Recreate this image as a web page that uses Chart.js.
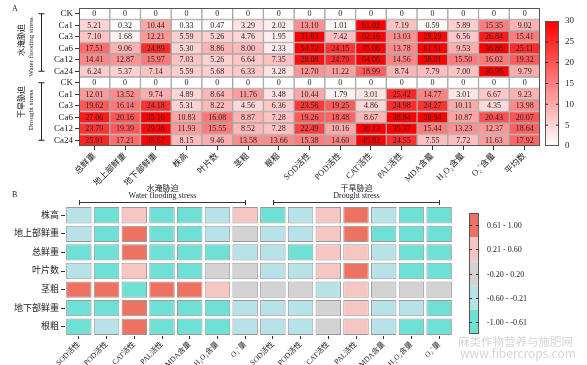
<!DOCTYPE html>
<html>
<head>
<meta charset="utf-8">
<script src="https://cdn.jsdelivr.net/npm/chart.js@4.4.0/dist/chart.umd.min.js"></script>
<style>
html, body { margin: 0; padding: 0; background: #fff; }
#wrap { position: relative; width: 587px; height: 365px; overflow: hidden; }
#chartA { position: absolute; left: 0; top: 0; }
#chartB { position: absolute; left: 0; top: 178px; }
.wm { position: absolute; color: #d6d6d6; font-family: 'Noto Sans CJK SC', sans-serif; white-space: nowrap; line-height: 1; }
</style>
</head>
<body>
<div id="wrap">
<canvas id="chartA" width="587" height="190"></canvas>
<canvas id="chartB" width="587" height="187"></canvas>
<div class="wm" style="left:458px;top:336px;font-size:11.5px;">麻类作物营养与施肥网</div>
<div class="wm" style="left:460px;top:347px;font-size:12px;">www.fibercrops.com</div>
</div>
<script>
// ---- data: panel A (promotion %, by treatment) ----
var traitsA = ['总鲜重', '地上部鲜重', '地下部鲜重', '株高', '叶片数', '茎粗', '根粗', 'SOD活性', 'POD活性', 'CAT活性', 'PAL活性', 'MDA含量', 'H₂O₂含量', 'O₂⁻含量', '平均数'];
var treatments = ['CK', 'Ca1', 'Ca3', 'Ca6', 'Ca12', 'Ca24'];
var floodValues = [
	[0, 0, 0, 0, 0, 0, 0, 0, 0, 0, 0, 0, 0, 0, 0],
	[5.21, 0.32, 10.44, 0.33, 0.47, 3.29, 2.02, 13.10, 1.01, 61.02, 7.19, 0.59, 5.89, 15.35, 9.02],
	[7.10, 1.68, 12.21, 5.59, 5.26, 4.76, 1.95, 31.83, 7.42, 62.16, 13.03, 29.29, 6.56, 26.84, 15.41],
	[17.51, 9.06, 24.89, 5.30, 8.86, 8.00, 2.33, 54.72, 24.15, 75.06, 13.78, 61.51, 9.53, 36.86, 25.11],
	[14.41, 12.87, 15.97, 7.03, 5.26, 6.64, 7.35, 28.08, 24.79, 64.06, 14.56, 38.01, 15.50, 16.02, 19.32],
	[6.24, 5.37, 7.14, 5.59, 5.68, 6.33, 3.28, 12.70, 11.22, 18.99, 8.74, 7.79, 7.00, 30.98, 9.79]
];
var droughtValues = [
	[0, 0, 0, 0, 0, 0, 0, 0, 0, 0, 0, 0, 0, 0, 0],
	[12.01, 13.52, 9.74, 4.89, 8.64, 11.76, 3.48, 10.44, 1.79, 3.01, 25.42, 14.77, 3.01, 6.67, 9.23],
	[19.62, 16.14, 24.18, 5.31, 8.22, 4.56, 6.36, 23.56, 19.25, 4.86, 24.98, 24.27, 10.11, 4.35, 13.98],
	[27.06, 20.16, 35.16, 10.83, 16.08, 8.87, 7.28, 19.26, 18.48, 8.67, 38.84, 38.94, 10.87, 20.43, 20.07],
	[23.79, 19.39, 29.36, 11.93, 15.55, 8.52, 7.28, 22.49, 10.16, 36.13, 35.37, 15.44, 13.23, 12.37, 18.64],
	[25.91, 17.21, 35.67, 8.15, 9.46, 13.58, 13.66, 15.38, 14.60, 45.82, 24.55, 7.55, 7.72, 11.63, 17.92]
];
var colorbarTicksA = [0, 5, 10, 15, 20, 25, 30];

// ---- data: panel B (correlation classes) ----
var growthTraits = ['株高', '地上部鲜重', '总鲜重', '叶片数', '茎粗', '地下部鲜重', '根粗'];
var physioIndices = ['SOD活性', 'POD活性', 'CAT活性', 'PAL活性', 'MDA含量', 'H₂O₂含量', 'O₂⁻量'];
var corrFlood = [
	[-0.4, -0.8, 0.4, -0.8, -0.8, -0.4, 0.4],
	[-0.4, -0.8, 0.8, -0.8, -0.8, -0.4, 0],
	[-0.8, -0.8, 0.8, -0.8, -0.8, -0.8, -0.4],
	[-0.4, -0.8, 0.4, -0.8, -0.8, 0, 0],
	[0.8, 0.8, -0.8, 0.8, 0.8, 0.4, 0],
	[-0.8, -0.8, 0.8, -0.8, -0.8, -0.8, -0.4],
	[-0.8, -0.4, 0.8, -0.8, -0.8, -0.8, -0.4]
];
var corrDrought = [
	[-0.8, -0.4, 0.4, 0.8, -0.4, -0.8, -0.8],
	[-0.4, -0.4, 0.4, 0.8, -0.8, -0.8, -0.8],
	[-0.4, -0.8, 0.4, 0.4, -0.4, -0.8, -0.8],
	[-0.4, -0.4, 0.4, 0.8, -0.4, -0.8, -0.8],
	[0, 0, -0.4, 0.4, 0, 0, 0],
	[-0.4, -0.4, 0, 0.4, -0.4, -0.4, -0.8],
	[-0.4, -0.4, 0, 0.4, -0.4, -0.8, -0.8]
];
var corrClasses = ['0.61 - 1.00', '0.21 - 0.60', '-0.20 - 0.20', '-0.60 - -0.21', '-1.00 - -0.61'];
var corrColors = ['#ED7262', '#F6C6C3', '#D3D3D3', '#B6E2E8', '#6EE0D4'];

Chart.defaults.font.family = "'Liberation Serif', 'Noto Sans CJK SC', serif";
Chart.defaults.color = '#222';

var SERIF = "'Liberation Serif', 'Noto Sans CJK SC', serif";
var rowsA = treatments.concat(treatments);
var valuesA = floodValues.concat(droughtValues);

function redScale(v) {
	var t = Math.min(v / 30, 1);
	var g = Math.round(255 * (1 - t));
	return 'rgb(255,' + g + ',' + g + ')';
}

function corrColor(v) {
	if (v > 0.6) return corrColors[0];
	if (v > 0.2) return corrColors[1];
	if (v >= -0.2) return corrColors[2];
	if (v >= -0.6) return corrColors[3];
	return corrColors[4];
}

function vText(ctx, txt, x, y, size) {
	ctx.save();
	ctx.translate(x, y);
	ctx.rotate(-Math.PI / 2);
	ctx.font = size + 'px ' + SERIF;
	ctx.textAlign = 'center';
	ctx.textBaseline = 'middle';
	ctx.fillText(txt, 0, 0);
	ctx.restore();
}

// ---- panel A ----
var decorA = {
	id: 'decorA',
	afterDraw: function(chart) {
		var ctx = chart.ctx, area = chart.chartArea, y = chart.scales.y;
		ctx.save();
		// cell values
		ctx.font = '8px ' + SERIF;
		ctx.textAlign = 'center';
		ctx.textBaseline = 'middle';
		ctx.fillStyle = '#222';
		chart.data.datasets.forEach(function(ds, i) {
			chart.getDatasetMeta(i).data.forEach(function(bar, j) {
				var v = valuesA[i][j];
				ctx.fillText(v === 0 ? '0' : v.toFixed(2), bar.x, (bar.y + bar.base) / 2 + 0.5);
			});
		});
		// frame
		ctx.strokeStyle = '#555';
		ctx.lineWidth = 1;
		ctx.strokeRect(area.left + 0.5, area.top + 0.5, area.right - area.left - 1, area.bottom - area.top - 1);
		// group brackets
		ctx.strokeStyle = '#222';
		[[0, 5], [6, 11]].forEach(function(g) {
			var y0 = y.getPixelForValue(g[0] + 0.5), y1 = y.getPixelForValue(g[1] + 0.5);
			ctx.beginPath();
			ctx.moveTo(41.5, y0); ctx.lineTo(41.5, y1);
			ctx.moveTo(38.5, y0); ctx.lineTo(44.5, y0);
			ctx.moveTo(38.5, y1); ctx.lineTo(44.5, y1);
			ctx.stroke();
		});
		ctx.fillStyle = '#222';
		vText(ctx, '水淹胁迫', 22, 40, 8);
		vText(ctx, 'Water flooding stress', 31, 47, 7);
		vText(ctx, '干旱胁迫', 22, 102, 8);
		vText(ctx, 'Drought stress', 31, 110, 7);
		// panel letter
		ctx.font = '8px ' + SERIF;
		ctx.textAlign = 'left';
		ctx.fillText('A', 12, 9);
		// colour bar
		var bx = 545, bw = 14, top = 21, bot = 146;
		var grad = ctx.createLinearGradient(0, bot, 0, top);
		grad.addColorStop(0, '#ffffff');
		grad.addColorStop(1, '#ff0000');
		ctx.fillStyle = grad;
		ctx.fillRect(bx, top, bw, bot - top);
		ctx.strokeStyle = '#555';
		ctx.strokeRect(bx + 0.5, top + 0.5, bw - 1, bot - top - 1);
		ctx.font = '9px ' + SERIF;
		ctx.fillStyle = '#222';
		ctx.textAlign = 'left';
		ctx.strokeStyle = '#333';
		colorbarTicksA.forEach(function(t) {
			var ty = bot - t / 30 * (bot - top);
			if (t > 0 && t < 30) {
				ctx.beginPath();
				ctx.moveTo(bx, ty); ctx.lineTo(bx + 3, ty);
				ctx.moveTo(bx + bw - 3, ty); ctx.lineTo(bx + bw, ty);
				ctx.stroke();
			}
			ctx.fillText(String(t), 565, ty);
		});
		ctx.restore();
	}
};

new Chart(document.getElementById('chartA'), {
	type: 'bar',
	data: {
		labels: traitsA,
		datasets: rowsA.map(function(r, i) {
			return {
				label: r,
				data: traitsA.map(function() { return [i, i + 1]; }),
				backgroundColor: valuesA[i].map(redScale),
				borderColor: '#a8a8a8',
				borderWidth: 1,
				borderSkipped: false,
				grouped: false,
				barPercentage: 1,
				categoryPercentage: 1
			};
		})
	},
	options: {
		responsive: false,
		animation: false,
		events: [],
		layout: { padding: { top: 8, right: 47, left: 0, bottom: 0 } },
		plugins: { legend: { display: false }, tooltip: { enabled: false } },
		scales: {
			x: {
				grid: { offset: false, drawOnChartArea: false, tickLength: 4, color: '#333' },
				border: { display: false },
				ticks: { autoSkip: false, maxRotation: 45, minRotation: 45, padding: 1, font: { size: 8.5 } },
				afterFit: function(s) { s.height = 44; }
			},
			y: {
				type: 'linear', min: 0, max: 12, reverse: true,
				afterBuildTicks: function(s) { s.ticks = rowsA.map(function(_, i) { return { value: i + 0.5 }; }); },
				grid: { drawOnChartArea: false, tickLength: 4, color: '#333' },
				border: { display: false },
				ticks: { autoSkip: false, padding: 2, font: { size: 9 }, callback: function(v, i) { return rowsA[i]; } },
				afterFit: function(s) { s.width = 79; }
			}
		}
	},
	plugins: [decorA]
});

// ---- panel B ----
var columnsB = physioIndices.concat(physioIndices);
var corrB = corrFlood.map(function(row, i) { return row.concat(corrDrought[i]); });

var decorB = {
	id: 'decorB',
	afterDraw: function(chart) {
		var ctx = chart.ctx, x = chart.scales.x;
		ctx.save();
		ctx.fillStyle = '#222';
		ctx.strokeStyle = '#333';
		ctx.lineWidth = 1;
		ctx.font = '8px ' + SERIF;
		ctx.textAlign = 'left';
		ctx.textBaseline = 'middle';
		ctx.fillText('B', 12, 17);
		// stress headers
		[[0, 6, '水淹胁迫', 'Water flooding stress'], [7, 13, '干旱胁迫', 'Drought stress']].forEach(function(h) {
			var x0 = Math.round(x.getPixelForValue(h[0])) + 0.5, x1 = Math.round(x.getPixelForValue(h[1])) + 0.5;
			ctx.beginPath();
			ctx.moveTo(x0, 24.5); ctx.lineTo(x1, 24.5);
			ctx.moveTo(x0, 22); ctx.lineTo(x0, 27);
			ctx.moveTo(x1, 22); ctx.lineTo(x1, 27);
			ctx.stroke();
			ctx.textAlign = 'center';
			ctx.font = '8px ' + SERIF;
			ctx.fillText(h[2], (x0 + x1) / 2, 11);
			ctx.fillText(h[3], (x0 + x1) / 2, 18);
		});
		// legend bar
		var bx = 469, bw = 10, top = 35, bot = 156, seg = (bot - top) / corrClasses.length;
		corrClasses.forEach(function(c, k) {
			ctx.fillStyle = corrColors[k];
			ctx.fillRect(bx, top + k * seg, bw, seg);
		});
		ctx.strokeStyle = '#555';
		ctx.strokeRect(bx + 0.5, top + 0.5, bw - 1, bot - top - 1);
		ctx.strokeStyle = '#333';
		ctx.fillStyle = '#222';
		ctx.textAlign = 'left';
		ctx.font = '8px ' + SERIF;
		corrClasses.forEach(function(c, k) {
			var cy = Math.round(top + (k + 0.5) * seg) + 0.5;
			ctx.beginPath();
			ctx.moveTo(bx, cy); ctx.lineTo(bx + 3, cy);
			ctx.moveTo(bx + bw - 3, cy); ctx.lineTo(bx + bw, cy);
			ctx.stroke();
			ctx.fillText(c, 487, cy);
		});
		ctx.restore();
	}
};

new Chart(document.getElementById('chartB'), {
	type: 'bar',
	data: {
		labels: columnsB,
		datasets: growthTraits.map(function(r, i) {
			return {
				label: r,
				data: columnsB.map(function() { return [i + 0.06, i + 0.94]; }),
				backgroundColor: corrB[i].map(corrColor),
				borderColor: '#9a9a9a',
				borderWidth: 1,
				borderSkipped: false,
				grouped: false,
				barPercentage: 0.92,
				categoryPercentage: 1
			};
		})
	},
	options: {
		responsive: false,
		animation: false,
		events: [],
		layout: { padding: { top: 28, right: 134, left: 0, bottom: 0 } },
		plugins: { legend: { display: false }, tooltip: { enabled: false } },
		scales: {
			x: {
				grid: { offset: false, drawOnChartArea: false, tickLength: 3, color: '#333' },
				border: { display: false },
				ticks: { autoSkip: false, maxRotation: 45, minRotation: 45, padding: 1, font: { size: 7.5 } },
				afterFit: function(s) { s.height = 29; }
			},
			y: {
				type: 'linear', min: 0, max: 7, reverse: true,
				afterBuildTicks: function(s) { s.ticks = growthTraits.map(function(_, i) { return { value: i + 0.5 }; }); },
				grid: { drawOnChartArea: false, tickLength: 4, color: '#333' },
				border: { display: false },
				ticks: { autoSkip: false, padding: 2, font: { size: 9 }, callback: function(v, i) { return growthTraits[i]; } },
				afterFit: function(s) { s.width = 65; }
			}
		}
	},
	plugins: [decorB]
});
</script>
</body>
</html>
